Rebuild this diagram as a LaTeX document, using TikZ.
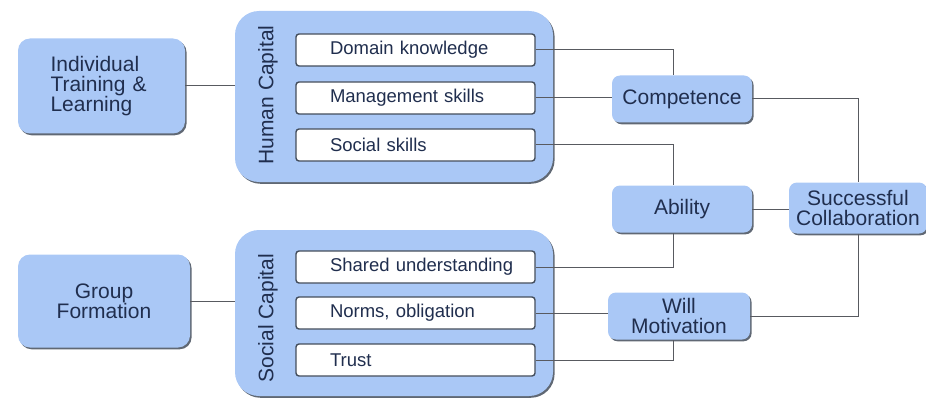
\documentclass[tikz,border=0pt]{standalone}
\usepackage{fontspec}
\setmainfont{Liberation Sans}
\usetikzlibrary{shadows, positioning}

\definecolor{capblue}{RGB}{170,200,246}
\definecolor{captext}{RGB}{32,46,78}
\definecolor{wire}{RGB}{88,90,96}
\definecolor{rim}{RGB}{68,78,92}

\begin{document}
\begin{tikzpicture}[x=1pt, y=-1pt,
    every node/.style={font=\fontsize{21}{20}\selectfont, text=captext},
    shade/.style={drop shadow={shadow xshift=1.6pt, shadow yshift=-1.8pt, fill=rim, opacity=0.85}},
    group/.style={fill=capblue, rounded corners=24pt, minimum width=318pt, shade},
    item/.style={draw=rim, line width=1.4pt, fill=white, rounded corners=3pt, minimum width=239pt,
      minimum height=32pt, inner xsep=0pt, text width=171pt, align=left, font=\fontsize{18.5}{18}\selectfont},
    factor/.style={fill=capblue, rounded corners=8pt, minimum width=140pt, minimum height=47pt, align=center, shade},
    source/.style={fill=capblue, rounded corners=12pt, shade},
    link/.style={draw=wire, line width=1pt}
  ]
  \useasboundingbox (0,0) rectangle (926,401);

  % the two capital groups
  \node[group, minimum height=171pt] (hc) at (394,96.5) {};
  \node[group, minimum height=166pt] (soc) at (394,313) {};
  \node[rotate=90] (hclabel) at (268,95) {Human Capital};
  \node[rotate=90] (soclabel) at (268,318) {Social Capital};

  \node[item] (dk) at (415.5,50) {Domain knowledge};
  \node[item] (ms) at (415.5,98) {Management skills};
  \node[item] (ss) at (415.5,145) {Social skills};
  \node[item] (su) at (415.5,267) {\mbox{Shared understanding}};
  \node[item] (no) at (415.5,313) {Norms, obligation};
  \node[item] (tr) at (415.5,360) {Trust};

  % sources on the left
  \node[source, minimum width=167pt, minimum height=95pt, text width=102pt, align=left] (itl) at (101.5,86) {Individual\\Training \&\\Learning};
  \node[source, minimum width=172pt, minimum height=93pt, align=center] (gf) at (104,301) {Group\\Formation};

  % factors
  \node[factor] (comp) at (682,99) {Competence};
  \node[factor] (abil) at (682,209) {Ability};
  \node[factor, minimum width=142pt] (will) at (679,316) {Will\\Motivation};
  \node[factor, minimum width=138pt, minimum height=51pt] (sc) at (858,208) {Successful\\Collaboration};

  \coordinate (bus) at (673,0);

  \draw[link] (itl.east) -- (itl.east -| hc.west);
  \draw[link] (gf.east) -- (gf.east -| soc.west);
  \draw[link] (dk.east) -| (bus |- comp.north);
  \draw[link] (ms.east) -- (ms.east -| comp.west);
  \draw[link] (ss.east) -| (bus |- abil.north);
  \draw[link] (su.east) -| (bus |- abil.south);
  \draw[link] (no.east) -- (no.east -| will.west);
  \draw[link] (tr.east) -| (bus |- will.south);
  \draw[link] (comp.east) -| (sc.north);
  \draw[link] (abil.east) -- (abil.east -| sc.west);
  \draw[link] (sc.south) |- (will.east);
\end{tikzpicture}
\end{document}
